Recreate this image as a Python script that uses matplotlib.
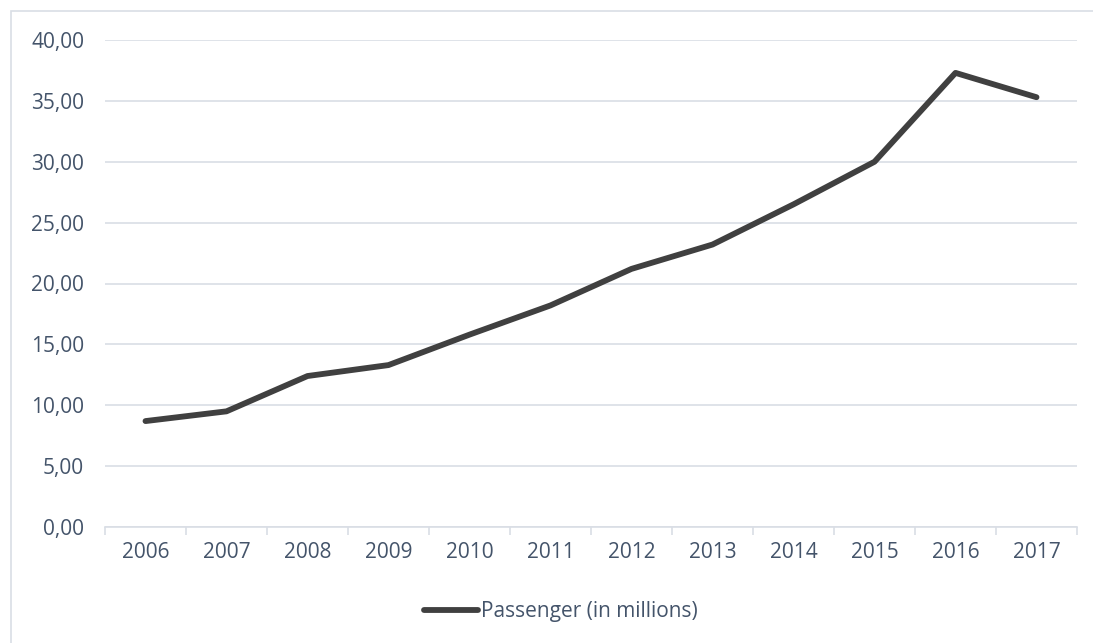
import matplotlib
matplotlib.use("Agg")
import matplotlib.pyplot as plt
from matplotlib.patches import Rectangle
from matplotlib.ticker import FixedLocator, FuncFormatter

years = ["2006", "2007", "2008", "2009", "2010", "2011", "2012", "2013", "2014", "2015", "2016", "2017"]
passengers = [8.7, 9.5, 12.4, 13.3, 15.8, 18.2, 21.2, 23.2, 26.5, 30.0, 37.3, 35.3]
series_name = "Passenger (in millions)"
y_ticks = [0, 5, 10, 15, 20, 25, 30, 35, 40]

plt.rcParams['font.family'] = ['Open Sans', 'DejaVu Sans']
text_color = "#44546A"
grid_color = "#D9DEE5"
fs = 15

W, H = 1093, 643
fig = plt.figure(figsize=(W / 100, H / 100), dpi=100)
fig.patches.append(Rectangle((11 / W, -0.1), 1.2, 1 - 11 / H + 0.1, transform=fig.transFigure,
                             fill=False, edgecolor="#D9DEE5", linewidth=1.2))

ax = fig.add_axes([105 / W, 1 - 527 / H, (1077 - 105) / W, (527 - 40) / H])
x = list(range(len(years)))
line, = ax.plot(x, passengers, color="#404040", linewidth=4.2, solid_capstyle="round",
                solid_joinstyle="round", label=series_name, zorder=3)

ax.set_xlim(-0.5, len(years) - 0.5)
ax.set_ylim(0, 40)
ax.set_yticks(y_ticks)
ax.yaxis.set_major_formatter(FuncFormatter(lambda v, p: f"{v:.2f}".replace(".", ",")))
ax.set_xticks(x)
ax.set_xticklabels(years)
ax.xaxis.set_minor_locator(FixedLocator([i - 0.5 for i in range(len(years) + 1)]))
ax.tick_params(axis="x", which="major", length=0, pad=11, labelsize=fs, labelcolor=text_color)
ax.tick_params(axis="x", which="minor", length=6, color=grid_color, width=1.2)
ax.tick_params(axis="y", length=0, pad=15, labelsize=fs, labelcolor=text_color)
ax.grid(axis="y", color=grid_color, linewidth=1.2)
for s in ["top", "right", "left"]:
    ax.spines[s].set_visible(False)
ax.spines["bottom"].set_color(grid_color)
ax.spines["bottom"].set_linewidth(1.2)
ax.set_axisbelow(True)

leg = fig.legend(handles=[line], loc="center", bbox_to_anchor=(561 / W, 1 - 612 / H), frameon=False,
                 handlelength=2.6, handletextpad=0.15, fontsize=fs, labelcolor=text_color,
                 borderpad=0, borderaxespad=0)

fig.savefig("out.png", dpi=100)
